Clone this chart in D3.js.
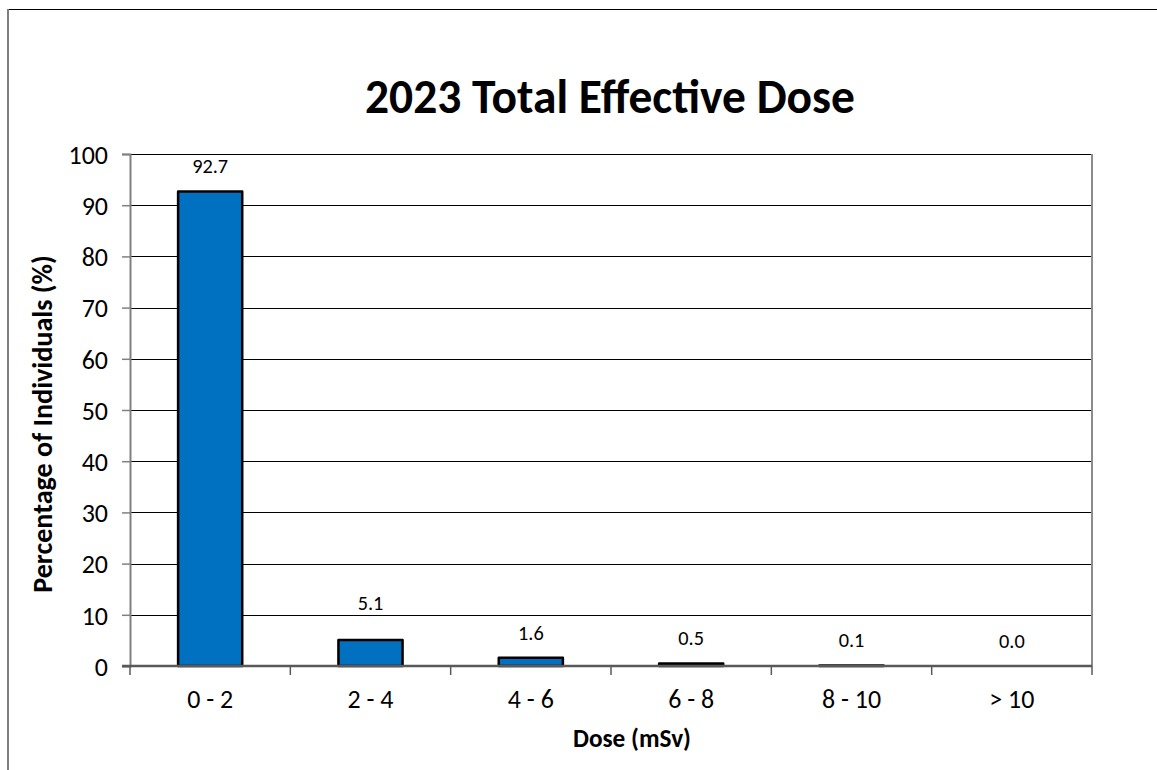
<!DOCTYPE html>
<html>
<head>
<meta charset="utf-8">
<script src="https://cdn.jsdelivr.net/npm/d3@7"></script>
<style>
  html, body { margin: 0; padding: 0; background: #fff; }
  svg { display: block; }
  text { font-family: Carlito, Lato, "Open Sans", sans-serif; fill: #000; }
</style>
</head>
<body>
<svg id="chart" width="1157" height="770"></svg>
<script>
// Dose bands and share of monitored individuals in each band (%)
const categories = ["0 - 2", "2 - 4", "4 - 6", "6 - 8", "8 - 10", "> 10"];
const percentages = [92.7, 5.1, 1.6, 0.5, 0.1, 0.0];
const yTicks = [0, 10, 20, 30, 40, 50, 60, 70, 80, 90, 100];

const titleText = "2023 Total Effective Dose";
const xTitle = "Dose (mSv)";
const yTitle = "Percentage of Individuals (%)";

const W = 1157, H = 770;
const plot = { left: 130, right: 1092, top: 154, bottom: 666 };

const svg = d3.select("#chart");

// font size at which a string spans the given width
function sizeFor(str, width, weight) {
  const t = svg.append("text").attr("font-size", 20)
    .attr("font-weight", weight || "normal").text(str);
  const w = t.node().getComputedTextLength();
  t.remove();
  return 20 * width / w;
}

const tickSize = sizeFor("0 - 2", 46);
const valueSize = sizeFor("92.7", 36);

// chart frame edges
svg.append("line").attr("x1", 9).attr("x2", W).attr("y1", 9.5).attr("y2", 9.5)
  .attr("stroke", "#000").attr("stroke-width", 1.2);
svg.append("line").attr("x1", 8).attr("x2", 8).attr("y1", 9).attr("y2", H)
  .attr("stroke", "#808080").attr("stroke-width", 2);

const x = d3.scaleBand().domain(categories)
  .range([plot.left, plot.right]).paddingInner(0.6).paddingOuter(0.3);
const xEdge = d3.scaleLinear().domain([0, categories.length]).range([plot.left, plot.right]);
const y = d3.scaleLinear().domain([0, 100]).range([plot.bottom, plot.top]);

// horizontal gridlines
svg.append("g").selectAll("line").data(yTicks.filter(t => t > 0)).join("line")
  .attr("x1", plot.left).attr("x2", plot.right)
  .attr("y1", d => Math.round(y(d)) + 0.5).attr("y2", d => Math.round(y(d)) + 0.5)
  .attr("stroke", "#000").attr("stroke-width", 1);

// right border of plot area
svg.append("line").attr("x1", plot.right).attr("x2", plot.right)
  .attr("y1", plot.top).attr("y2", plot.bottom)
  .attr("stroke", "#8c8c8c").attr("stroke-width", 2);

// y axis
const yAxis = d3.axisLeft(y).tickValues(yTicks).tickSize(8).tickPadding(14);
const gy = svg.append("g").attr("transform", `translate(${plot.left},0)`).call(yAxis);
gy.attr("font-family", null).attr("font-size", null);
gy.select(".domain").attr("stroke", "#808080").attr("stroke-width", 2);
gy.selectAll(".tick line").attr("stroke", "#808080").attr("stroke-width", 1.5);
gy.selectAll(".tick text").attr("font-size", tickSize).attr("dy", "0.36em");

// bars
svg.append("g").selectAll("rect").data(categories).join("rect")
  .attr("x", d => x(d))
  .attr("width", x.bandwidth())
  .attr("y", (d, i) => y(percentages[i]))
  .attr("height", (d, i) => y(0) - y(percentages[i]))
  .attr("fill", "#0070C0")
  .attr("stroke", "#000").attr("stroke-width", 2.5)
  .attr("stroke-linejoin", "round");

// x axis with tick marks on category boundaries
const gx = svg.append("g").attr("transform", `translate(0,${plot.bottom})`);
gx.append("line").attr("x1", plot.left - 8).attr("x2", plot.right)
  .attr("y1", 0).attr("y2", 0).attr("stroke", "#595959").attr("stroke-width", 2.5);
gx.selectAll("line.tick").data(d3.range(categories.length + 1)).join("line")
  .attr("class", "tick")
  .attr("x1", d => xEdge(d)).attr("x2", d => xEdge(d))
  .attr("y1", 0).attr("y2", 9)
  .attr("stroke", "#595959").attr("stroke-width", 1.5);
gx.selectAll("text").data(categories).join("text")
  .attr("x", d => x(d) + x.bandwidth() / 2)
  .attr("y", 42)
  .attr("text-anchor", "middle")
  .attr("font-size", tickSize)
  .text(d => d);

// value labels above each bar
const labelNudge = { "2 - 4": -12 };
svg.append("g").selectAll("text").data(categories).join("text")
  .attr("x", d => x(d) + x.bandwidth() / 2)
  .attr("y", (d, i) => y(percentages[i]) - 18 + (labelNudge[d] || 0))
  .attr("text-anchor", "middle")
  .attr("font-size", valueSize)
  .text((d, i) => percentages[i].toFixed(1));

// title
svg.append("text")
  .attr("x", 610).attr("y", 113)
  .attr("text-anchor", "middle")
  .attr("font-weight", "bold")
  .attr("font-size", sizeFor(titleText, 490, "bold"))
  .text(titleText);

// axis titles
svg.append("text")
  .attr("x", 632).attr("y", 747)
  .attr("text-anchor", "middle")
  .attr("font-weight", "bold")
  .attr("font-size", sizeFor(xTitle, 118, "bold"))
  .text(xTitle);

svg.append("text")
  .attr("transform", `translate(52,424) rotate(-90)`)
  .attr("text-anchor", "middle")
  .attr("font-weight", "bold")
  .attr("font-size", sizeFor(yTitle, 338, "bold"))
  .text(yTitle);
</script>
</body>
</html>
